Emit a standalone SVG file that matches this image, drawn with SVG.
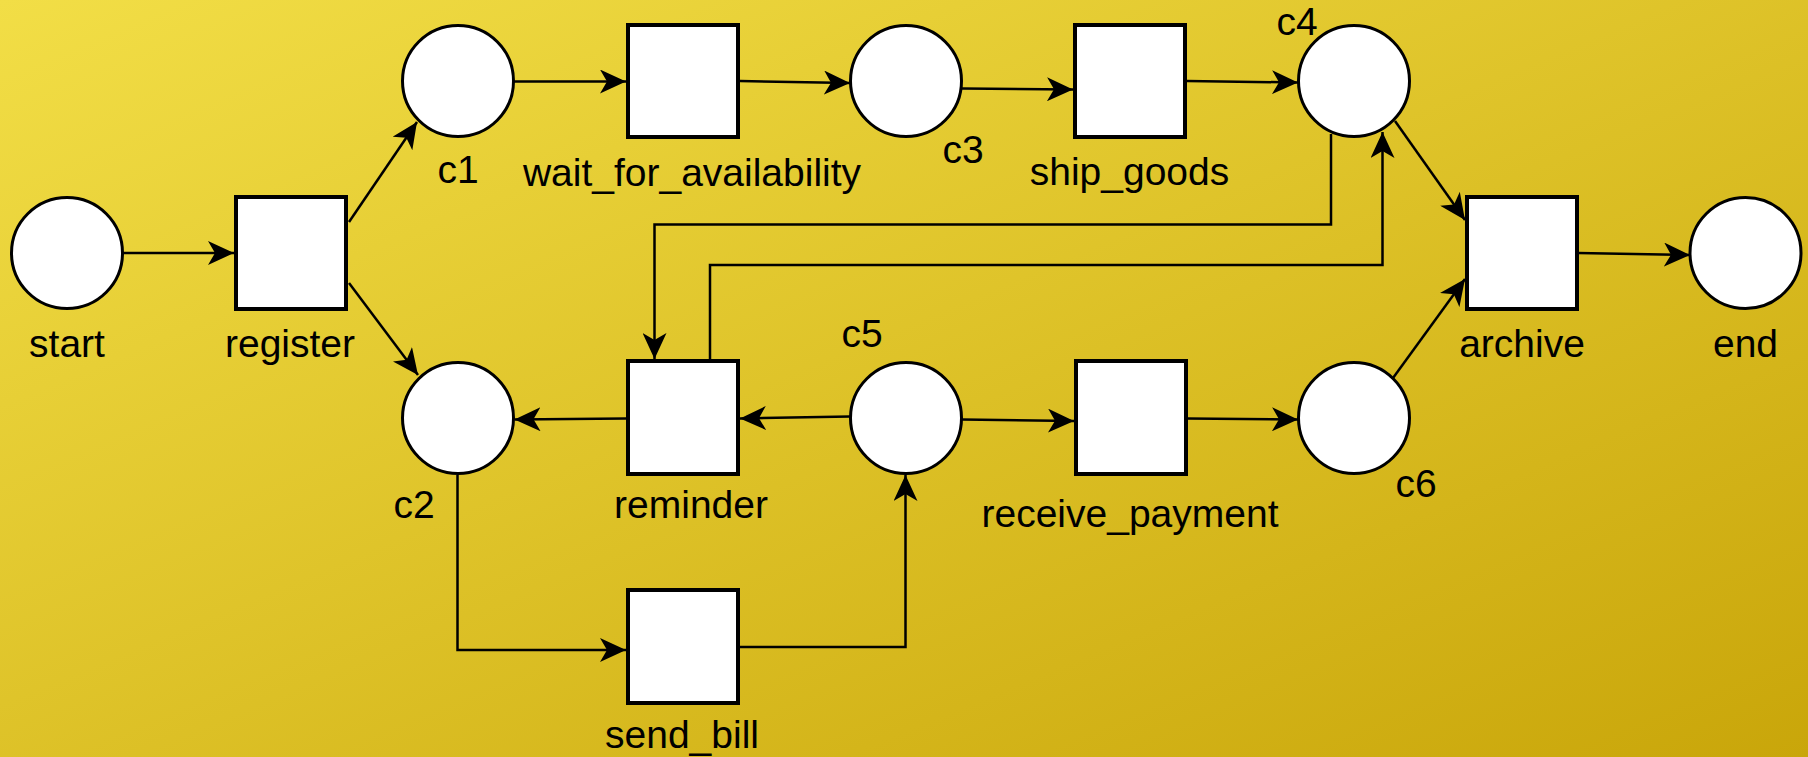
<svg xmlns="http://www.w3.org/2000/svg" width="1808" height="757" viewBox="0 0 1808 757">
  <defs>
    <linearGradient id="bg" x1="0" y1="0" x2="1" y2="1">
      <stop offset="0" stop-color="#f2de46"/>
      <stop offset="1" stop-color="#c9a60a"/>
    </linearGradient>
    <marker id="arrow" viewBox="0 0 26 24" refX="26" refY="12" markerWidth="26" markerHeight="24" markerUnits="userSpaceOnUse" orient="auto">
      <path d="M0,0 L26,12 L0,24 L7,12 Z" fill="#000"/>
    </marker>
  </defs>
  <style>
    .place { fill: #fff; stroke: #000; stroke-width: 3; }
    .trans { fill: #fff; stroke: #000; stroke-width: 4; }
    .arc { fill: none; stroke: #000; stroke-width: 2.5; marker-end: url(#arrow); }
    text { font-family: "Liberation Sans", Arial, sans-serif; font-size: 39px; fill: #000; text-anchor: middle; }
  </style>

  <rect x="0" y="0" width="1808" height="757" fill="url(#bg)"/>

  <!-- arcs -->
  <g id="connectors">
    <line class="arc" x1="123" y1="253" x2="234" y2="253"/>
    <line class="arc" x1="349" y1="222" x2="417" y2="122"/>
    <line class="arc" x1="349" y1="283" x2="418" y2="375"/>
    <line class="arc" x1="514" y1="81.5" x2="626" y2="81.5"/>
    <line class="arc" x1="740" y1="81" x2="850" y2="83"/>
    <line class="arc" x1="962" y1="88.5" x2="1073" y2="89.5"/>
    <line class="arc" x1="1187" y1="81" x2="1298" y2="82.5"/>
    <line class="arc" x1="1395" y1="121" x2="1465" y2="220"/>
    <line class="arc" x1="1393" y1="378" x2="1465" y2="279"/>
    <line class="arc" x1="1578" y1="253" x2="1690" y2="255"/>
    <polyline class="arc" points="1331,134 1331,224.5 654.5,224.5 654.5,359"/>
    <polyline class="arc" points="710,359 710,265 1382.5,265 1382.5,132"/>
    <line class="arc" x1="850" y1="416.5" x2="740" y2="418.5"/>
    <line class="arc" x1="626" y1="418.5" x2="514.5" y2="419.5"/>
    <polyline class="arc" points="457.5,475 457.5,650 626,650"/>
    <polyline class="arc" points="740,647 905.5,647 905.5,475"/>
    <line class="arc" x1="962" y1="419.5" x2="1074" y2="421"/>
    <line class="arc" x1="1187" y1="418.5" x2="1298" y2="419.5"/>
  </g>

  <!-- places -->
  <g id="start"><circle class="place" cx="67" cy="253" r="55.5"/><text x="67" y="357">start</text></g>
  <g id="c1"><circle class="place" cx="458" cy="81" r="55.5"/><text x="458" y="183">c1</text></g>
  <g id="c2"><circle class="place" cx="458" cy="418" r="55.5"/><text x="414" y="518">c2</text></g>
  <g id="c3"><circle class="place" cx="906" cy="81" r="55.5"/><text x="963" y="163">c3</text></g>
  <g id="c4"><circle class="place" cx="1354" cy="81" r="55.5"/><text x="1297" y="35">c4</text></g>
  <g id="c5"><circle class="place" cx="906" cy="418" r="55.5"/><text x="862" y="347">c5</text></g>
  <g id="c6"><circle class="place" cx="1354" cy="418" r="55.5"/><text x="1416" y="497">c6</text></g>
  <g id="end"><circle class="place" cx="1745.5" cy="253" r="55.5"/><text x="1745.5" y="357">end</text></g>

  <!-- transitions -->
  <g id="register"><rect class="trans" x="236" y="197" width="110" height="112"/><text x="290" y="357">register</text></g>
  <g id="wait_for_availability"><rect class="trans" x="628" y="25" width="110" height="112"/><text x="692" y="186">wait_for_availability</text></g>
  <g id="ship_goods"><rect class="trans" x="1075" y="25" width="110" height="112"/><text x="1129.5" y="185">ship_goods</text></g>
  <g id="archive"><rect class="trans" x="1467" y="197" width="110" height="112"/><text x="1522" y="357">archive</text></g>
  <g id="reminder"><rect class="trans" x="628" y="361" width="110" height="113"/><text x="691" y="518">reminder</text></g>
  <g id="send_bill"><rect class="trans" x="628" y="590" width="110" height="113"/><text x="682" y="748">send_bill</text></g>
  <g id="receive_payment"><rect class="trans" x="1076" y="361" width="110" height="113"/><text x="1130" y="527">receive_payment</text></g>
</svg>
